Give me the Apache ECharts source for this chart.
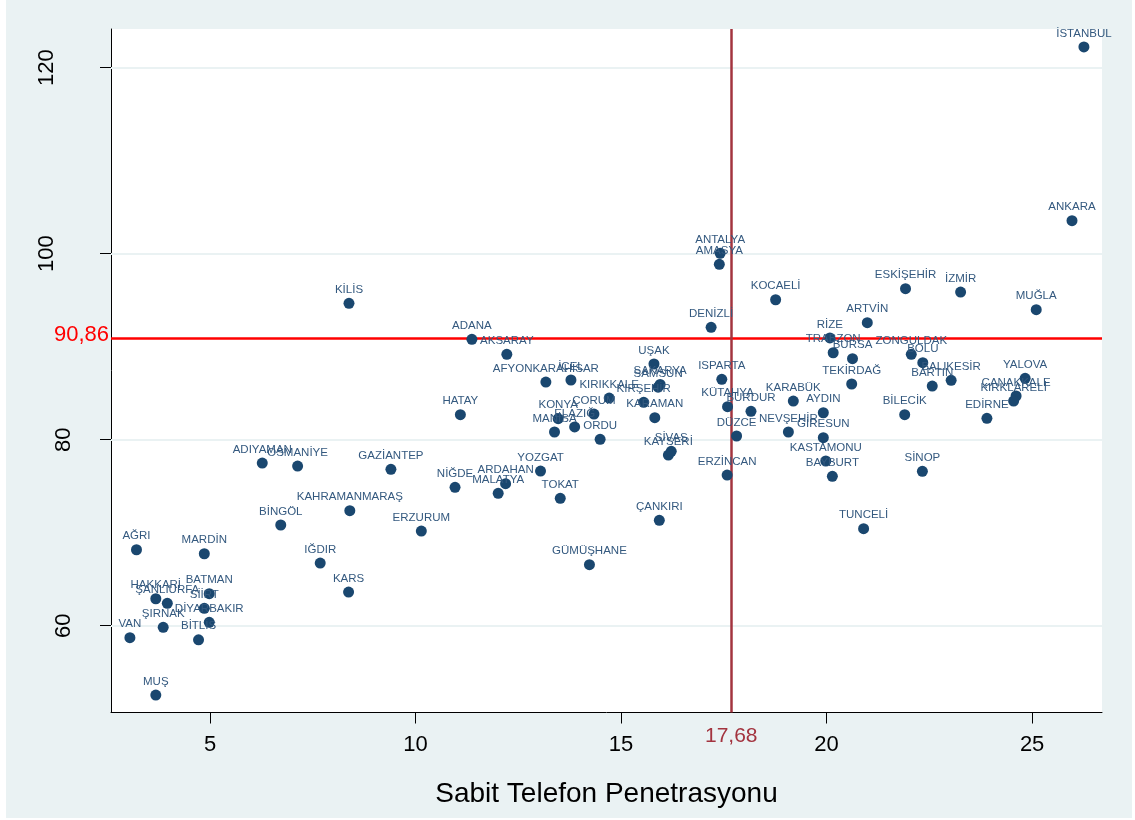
<!DOCTYPE html>
<html><head><meta charset="utf-8">
<script src="https://cdn.jsdelivr.net/npm/echarts@6/dist/echarts.min.js"></script>
<style>
html,body{margin:0;padding:0;background:#fff;}
#bg{position:absolute;left:6px;top:0;width:1126px;height:818px;background:#eaf2f3;}
#c{position:absolute;left:0;top:0;width:1135px;height:820px;}
</style>
</head><body><div id="bg"></div><div id="c"></div>
<script>
const provinces = ["ADANA","ADIYAMAN","AFYONKARAHİSAR","AĞRI","AKSARAY","AMASYA","ANKARA","ANTALYA","ARDAHAN","ARTVİN",
"AYDIN","BALIKESİR","BARTIN","BATMAN","BAYBURT","BİLECİK","BİNGÖL","BİTLİS","BOLU","BURDUR",
"BURSA","ÇANAKKALE","ÇANKIRI","ÇORUM","DENİZLİ","DİYARBAKIR","DÜZCE","EDİRNE","ELAZIĞ","ERZİNCAN",
"ERZURUM","ESKİŞEHİR","GAZİANTEP","GİRESUN","GÜMÜŞHANE","HAKKARİ","HATAY","IĞDIR","ISPARTA","İSTANBUL",
"İZMİR","KAHRAMANMARAŞ","KARABÜK","KARAMAN","KARS","KASTAMONU","KAYSERİ","KIRIKKALE","KIRKLARELİ","KIRŞEHİR",
"KİLİS","KOCAELİ","KONYA","KÜTAHYA","MALATYA","MANİSA","MARDİN","İÇEL","MUĞLA","MUŞ",
"NEVŞEHİR","NİĞDE","ORDU","OSMANİYE","RİZE","SAKARYA","SAMSUN","SİİRT","SİNOP","SİVAS",
"ŞANLIURFA","ŞIRNAK","TEKİRDAĞ","TOKAT","TRABZON","TUNCELİ","UŞAK","VAN","YALOVA","YOZGAT","ZONGULDAK"];
const xValues = [11.37,6.27,13.17,3.21,12.22,17.39,25.97,17.41,12.19,20.99,
19.92,23.03,22.57,4.98,20.14,21.90,6.72,4.72,22.34,18.16,
20.63,24.61,15.93,14.34,17.19,4.98,17.81,23.90,13.87,17.58,
10.14,21.92,9.40,19.92,14.23,3.68,11.09,7.68,17.45,26.26,
23.26,8.40,19.19,15.82,8.37,19.98,16.15,14.71,24.55,15.55,
8.38,18.76,13.47,17.59,12.01,13.38,4.86,13.78,25.10,3.68,
19.07,10.96,14.49,7.13,20.08,15.95,15.90,4.86,22.33,16.22,
3.96,3.86,20.61,13.52,20.16,20.90,15.80,3.05,24.83,13.04,22.06];
const yValues = [90.80,77.49,86.20,68.17,89.18,98.86,103.55,100.04,75.27,92.58,
82.90,86.39,85.77,63.44,76.06,82.69,70.83,58.49,88.28,83.05,
88.71,84.70,71.33,82.76,92.09,60.37,80.40,82.30,81.37,76.20,
70.18,96.24,76.82,80.22,66.56,62.90,82.69,66.74,86.49,122.23,
95.88,72.37,84.16,82.37,63.62,77.71,78.35,84.48,84.16,84.02,
94.67,95.05,82.26,83.55,74.24,80.83,67.74,86.42,93.98,52.55,
80.83,74.88,80.04,77.17,90.94,85.95,85.65,61.87,76.60,78.75,
62.41,59.83,85.99,73.70,89.35,70.43,88.14,58.71,86.60,76.63,89.18];
const xTicks = [5,10,15,20,25];
const yTicks = [60,80,100,120];
const xRange = [2.59, 26.70];
const yRange = [50.67, 124.16];
const meanX = 17.68, meanY = 90.86;
const meanXLabel = "17,68", meanYLabel = "90,86";
const xTitle = "Sabit Telefon Penetrasyonu";

const FONT = "'Liberation Sans', Arial, sans-serif";
const chart = echarts.init(document.getElementById('c'), null, {renderer:'canvas'});
const points = provinces.map((n,i)=>[xValues[i], yValues[i], n]);

chart.setOption({
  animation:false,
  backgroundColor:'transparent',
  grid:{left:111, top:29, right:33, bottom:107.5, show:true, backgroundColor:'#ffffff', borderWidth:0},
  xAxis:{
    type:'value', min:xRange[0], max:xRange[1],
    axisLine:{show:true, onZero:false, lineStyle:{color:'#000', width:1}},
    axisTick:{show:true, customValues:xTicks, length:11, lineStyle:{color:'#000', width:1}},
    axisLabel:{customValues:xTicks, fontSize:22, color:'#000', margin:21, fontFamily:FONT},
    splitLine:{show:false},
    name:xTitle, nameLocation:'middle', nameGap:68,
    nameTextStyle:{fontSize:28, color:'#000', fontFamily:FONT}
  },
  yAxis:{
    type:'value', min:yRange[0], max:yRange[1],
    axisLine:{show:true, onZero:false, lineStyle:{color:'#000', width:1}},
    axisTick:{show:true, customValues:yTicks, length:11, lineStyle:{color:'#000', width:1}},
    axisLabel:{customValues:yTicks, rotate:90, fontSize:22, color:'#000', margin:36, fontFamily:FONT,
      formatter: v => (String(v).length > 2 ? '{w|' + v + '}' : '{n|' + v + '}'),
      rich:{w:{fontSize:22, color:'#000', fontFamily:FONT, padding:[0,0,17,0]}, n:{fontSize:22, color:'#000', fontFamily:FONT}}
    },
    splitLine:{show:false}
  },
  series:[
    {
      type:'scatter', data:[], z:1, silent:true,
      markLine:{silent:true, symbol:'none', z:1, animation:false,
        label:{show:false},
        lineStyle:{color:'#eaf2f3', width:2, type:'solid'},
        data: yTicks.map(v => ({yAxis:v}))
      }
    },
    {
      type:'scatter', data:[], z:2, silent:true,
      markLine:{silent:true, symbol:'none', z:2, animation:false,
        data:[
          {yAxis:meanY, lineStyle:{color:'#ff0000', width:2.5, type:'solid'},
           label:{show:true, position:'start', formatter:meanYLabel, color:'#ff0000', fontSize:22, fontFamily:FONT, distance:2, offset:[0,-4]}},
          {xAxis:meanX, lineStyle:{color:'#a3343f', width:2.5, type:'solid'},
           label:{show:true, position:'start', formatter:meanXLabel, color:'#a3343f', fontSize:21, fontFamily:FONT, distance:13}}
        ]
      }
    },
    {
      type:'scatter', z:3, data:points, symbol:'circle', symbolSize:11,
      itemStyle:{color:'#1a476f', opacity:1},
      label:{show:true, position:'top', distance:2, formatter:p => p.data[2],
        fontSize:11.5, color:'#34597f', fontFamily:FONT}
    }
  ]
});
</script>
</body></html>
